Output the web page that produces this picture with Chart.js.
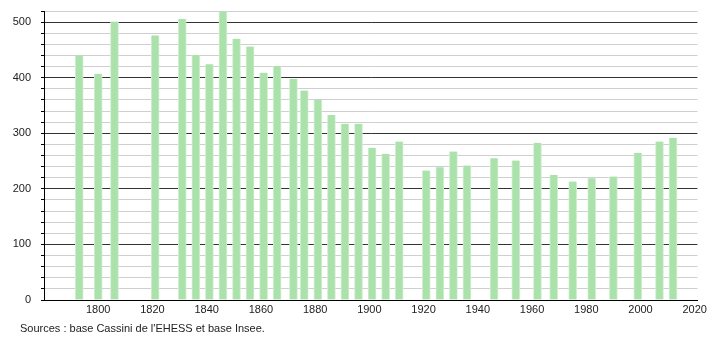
<!DOCTYPE html>
<html>
<head>
<meta charset="utf-8">
<script src="https://cdn.jsdelivr.net/npm/chart.js@4.4.1/dist/chart.umd.min.js"></script>
<style>
    html, body { margin: 0; padding: 0; background: #fff; }
    canvas { display: block; }
</style>
</head>
<body>
<canvas id="popChart" width="710" height="340"></canvas>
<script>
const years = [1793, 1800, 1806, 1821, 1831, 1836, 1841, 1846, 1851, 1856, 1861, 1866,
    1872, 1876, 1881, 1886, 1891, 1896, 1901, 1906, 1911, 1921, 1926, 1931, 1936,
    1946, 1954, 1962, 1968, 1975, 1982, 1990, 1999, 2007, 2012];
const population = [440, 407, 501, 476, 506, 441, 424, 519, 470, 456, 409, 421,
    398, 377, 360, 333, 317, 317, 274, 263, 285, 233, 239, 267, 242,
    255, 251, 283, 225, 213, 219, 222, 265, 285, 292];
const sourceText = "Sources : base Cassini de l'EHESS et base Insee.";

const FONT = { family: "'Liberation Sans', Arial, sans-serif", size: 11 };

// source line under the chart
const sourcePlugin = {
    id: 'sourceText',
    afterDraw(chart) {
        const c = chart.ctx;
        c.save();
        c.font = '11px ' + FONT.family;
        c.fillStyle = '#222';
        c.textBaseline = 'middle';
        c.textAlign = 'left';
        c.fillText(sourceText, 20, 329);
        c.restore();
    }
};

const ctx = document.getElementById('popChart').getContext('2d');
new Chart(ctx, {
    type: 'bar',
    data: {
        datasets: [{
            data: years.map((y, i) => ({ x: y, y: population[i] })),
            backgroundColor: '#abe1ab',
            borderColor: '#d0efd0',
            borderWidth: { left: 1, right: 1, top: 0, bottom: 0 },
            borderSkipped: 'start',
            barThickness: 8
        }]
    },
    options: {
        responsive: false,
        animation: false,
        layout: { padding: { top: 11, right: 10, left: 0, bottom: 22 } },
        scales: {
            x: {
                type: 'linear',
                min: 1780,
                max: 2021,
                offset: false,
                grid: { display: false, offset: false, drawTicks: false },
                border: { display: true, color: '#000', width: 1 },
                ticks: {
                    stepSize: 20,
                    includeBounds: false,
                    maxRotation: 0,
                    autoSkip: false,
                    padding: 3,
                    color: '#222',
                    font: FONT,
                    callback: v => (v >= 1800 ? String(v) : '')
                },
                afterFit: scale => { scale.height = 18; }
            },
            y: {
                min: 0,
                max: 520,
                grid: {
                    color: c => (c.tick.value % 100 === 0 ? '#333' : '#cfcfcf'),
                    tickColor: '#000',
                    tickLength: 3
                },
                border: { display: true, color: '#000', width: 1 },
                ticks: {
                    stepSize: 20,
                    maxTicksLimit: 40,
                    autoSkip: false,
                    padding: 10,
                    color: '#222',
                    font: FONT,
                    callback: v => (v % 100 === 0 ? String(v) : '')
                },
                afterFit: scale => {
                    scale.width = 44;
                    scale.paddingTop = 0;
                    scale.paddingBottom = 0;
                }
            }
        },
        plugins: {
            legend: { display: false },
            tooltip: { enabled: false }
        }
    },
    plugins: [sourcePlugin]
});
</script>
</body>
</html>
